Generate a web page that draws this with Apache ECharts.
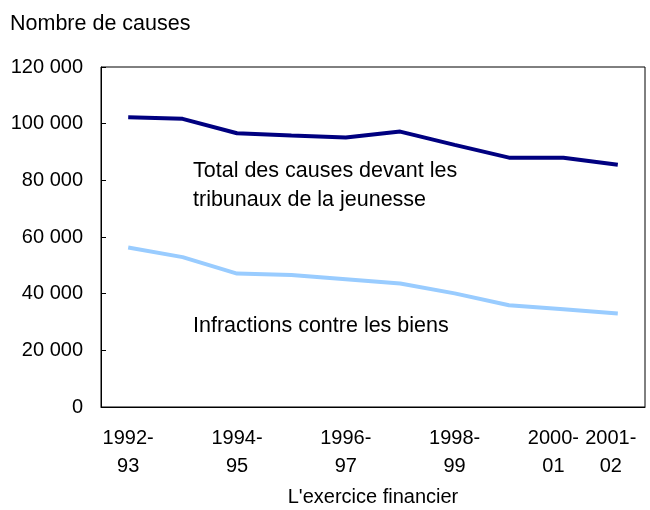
<!DOCTYPE html>
<html>
<head>
<meta charset="utf-8">
<script src="https://cdn.jsdelivr.net/npm/echarts@6/dist/echarts.min.js"></script>
<style>
  html, body { margin: 0; padding: 0; background: #fff; }
  #chart { width: 650px; height: 510px; }
</style>
</head>
<body>
<div id="chart"></div>
<script type="text/javascript">
// exercices financiers
var years = ['1992-\n93', '1993-\n94', '1994-\n95', '1995-\n96', '1996-\n97',
             '1997-\n98', '1998-\n99', '1999-\n00', '2000-\n01', '2001-\n02'];
// total des causes devant les tribunaux de la jeunesse
var totalCauses = [102300, 101700, 96600, 95800, 95100, 97200, 92500, 88000, 88000, 85500];
// infractions contre les biens
var biens = [56300, 52900, 47100, 46600, 45100, 43600, 40100, 35900, 34500, 33000];
var shownLabels = [0, 2, 4, 6, 8];
var lastLabel = 9;

var fontName = '"Liberation Sans", Arial, sans-serif';

function fmtNum(v) {
    return String(v).replace(/\B(?=(\d{3})+(?!\d))/g, ' ');
}

// les deux dernieres etiquettes sont un peu decalees a gauche
var xData = years.map(function (y, i) {
    if (i === 8) return { value: y, textStyle: { padding: [0, 20, 0, 0] } };
    if (i === 9) return { value: y, textStyle: { padding: [0, 14, 0, 0] } };
    return y;
});

var labelStyle = {
    fontFamily: fontName, fontSize: 20, color: '#000',
    lineHeight: 28, margin: 17
};

var myChart = echarts.init(document.getElementById('chart'));
var option = {
    animation: false,
    textStyle: { fontFamily: fontName, color: '#000' },
    title: {
        text: 'Nombre de causes',
        left: 5, top: 8,
        textStyle: { fontFamily: fontName, fontSize: 21.5, fontWeight: 'normal', color: '#000' }
    },
    grid: {
        left: 101, right: 5, top: 67, bottom: 103,
        outerBoundsMode: 'none',
        show: true, borderColor: '#000', borderWidth: 1
    },
    xAxis: [
        {
            type: 'category',
            data: xData,
            boundaryGap: true,
            name: "L'exercice financier",
            nameLocation: 'middle',
            nameGap: 80,
            nameTextStyle: { fontFamily: fontName, fontSize: 20, color: '#000' },
            axisLine: { lineStyle: { color: '#000', width: 1 } },
            axisTick: { inside: true, length: 5, interval: 0, lineStyle: { color: '#000' } },
            axisLabel: Object.assign({
                interval: function (index) { return shownLabels.indexOf(index) >= 0; }
            }, labelStyle),
            splitLine: { show: false }
        },
        {
            // seulement l'etiquette 2001-02, pour qu'elle ne cache pas 2000-01
            type: 'category',
            data: xData,
            boundaryGap: true,
            position: 'bottom',
            axisLine: { show: false },
            axisTick: { show: false },
            axisLabel: Object.assign({
                interval: function (index) { return index === lastLabel; },
                showMaxLabel: true
            }, labelStyle),
            splitLine: { show: false }
        }
    ],
    yAxis: {
        type: 'value',
        min: 0, max: 120000, interval: 20000,
        axisLine: { show: true, lineStyle: { color: '#000', width: 1 } },
        axisTick: { show: true, inside: true, length: 5, lineStyle: { color: '#000' } },
        axisLabel: {
            fontFamily: fontName, fontSize: 20, color: '#000', margin: 18,
            formatter: fmtNum
        },
        splitLine: { show: false }
    },
    graphic: [
        {
            type: 'text', left: 193, top: 157,
            style: {
                text: 'Total des causes devant les\ntribunaux de la jeunesse',
                font: '21.5px "Liberation Sans", Arial, sans-serif',
                lineHeight: 29, fill: '#000'
            }
        },
        {
            type: 'text', left: 193, top: 315,
            style: {
                text: 'Infractions contre les biens',
                font: '21.5px "Liberation Sans", Arial, sans-serif',
                fill: '#000'
            }
        }
    ],
    series: [
        {
            name: 'Total des causes devant les tribunaux de la jeunesse',
            type: 'line',
            data: totalCauses,
            symbol: 'none',
            lineStyle: { color: '#000080', width: 4 }
        },
        {
            name: 'Infractions contre les biens',
            type: 'line',
            data: biens,
            symbol: 'none',
            lineStyle: { color: '#99CCFF', width: 4 }
        }
    ]
};
myChart.setOption(option);
</script>
</body>
</html>
